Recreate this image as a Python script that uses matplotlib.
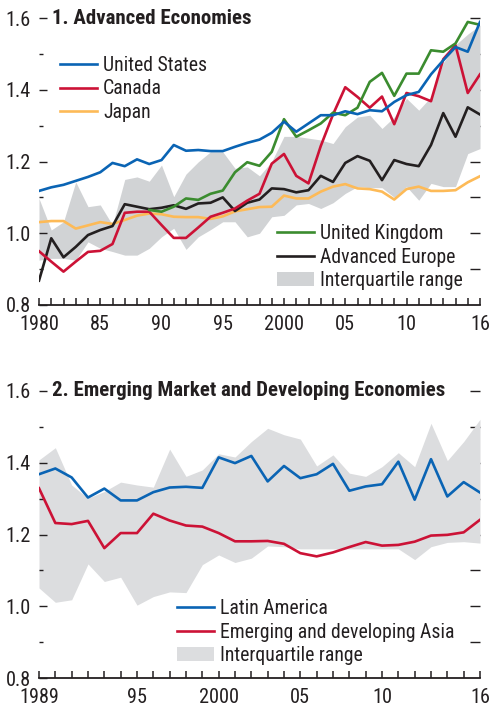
import numpy as np
import matplotlib
matplotlib.use("Agg")
import matplotlib.pyplot as plt
from matplotlib.lines import Line2D
from matplotlib.patches import Patch
from matplotlib import font_manager

# ---------------- Panel 1 data ----------------
years1 = list(range(1980, 2017))
us = [1.118, 1.128, 1.135, 1.146, 1.157, 1.170, 1.196, 1.187, 1.206, 1.193,
      1.204, 1.246, 1.230, 1.232, 1.229, 1.229, 1.241, 1.252, 1.261, 1.280,
      1.311, 1.283, 1.306, 1.329, 1.329, 1.340, 1.332, 1.343, 1.340, 1.366,
      1.385, 1.394, 1.443, 1.482, 1.519, 1.506, 1.589]
canada = [0.950, 0.921, 0.893, 0.921, 0.948, 0.951, 0.970, 1.057, 1.060, 1.060,
          1.023, 0.987, 0.987, 1.016, 1.046, 1.057, 1.069, 1.091, 1.110, 1.194,
          1.221, 1.160, 1.139, 1.243, 1.331, 1.407, 1.380, 1.350, 1.381, 1.304,
          1.391, 1.382, 1.368, 1.485, 1.524, 1.391, 1.443]
japan = [1.031, 1.034, 1.034, 1.013, 1.022, 1.031, 1.026, 1.037, 1.049, 1.055,
         1.053, 1.046, 1.045, 1.045, 1.040, 1.047, 1.061, 1.067, 1.073, 1.074,
         1.105, 1.097, 1.097, 1.116, 1.130, 1.137, 1.125, 1.123, 1.116, 1.094,
         1.123, 1.130, 1.118, 1.118, 1.120, 1.142, 1.159]
uk_years = list(range(1989, 2017))
uk = [1.065, 1.060, 1.074, 1.097, 1.093, 1.110, 1.119, 1.170, 1.198, 1.188,
      1.227, 1.318, 1.269, 1.287, 1.306, 1.336, 1.329, 1.350, 1.422, 1.447,
      1.383, 1.445, 1.445, 1.510, 1.506, 1.529, 1.589, 1.581]
europe = [0.868, 0.986, 0.933, 0.962, 0.995, 1.009, 1.020, 1.081, 1.074, 1.067,
          1.071, 1.078, 1.068, 1.083, 1.085, 1.100, 1.062, 1.085, 1.094, 1.125,
          1.123, 1.114, 1.120, 1.160, 1.143, 1.196, 1.215, 1.202, 1.148, 1.204,
          1.193, 1.187, 1.246, 1.335, 1.269, 1.351, 1.331]
iqr1_low = [0.925, 0.930, 0.930, 0.925, 0.976, 0.958, 0.949, 0.939, 0.939, 0.958,
            0.990, 1.014, 0.955, 0.990, 1.010, 1.032, 1.032, 0.990, 1.000, 1.046,
            1.050, 1.079, 1.083, 1.069, 1.085, 1.111, 1.130, 1.127, 1.127, 1.100,
            1.130, 1.092, 1.139, 1.130, 1.130, 1.222, 1.236]
iqr1_high = [1.097, 1.009, 1.032, 1.143, 1.074, 1.079, 1.023, 1.150, 1.157, 1.145,
             1.190, 1.102, 1.165, 1.199, 1.227, 1.227, 1.181, 1.185, 1.160, 1.200,
             1.270, 1.270, 1.265, 1.260, 1.250, 1.297, 1.324, 1.329, 1.292, 1.324,
             1.376, 1.343, 1.380, 1.475, 1.525, 1.555, 1.580]

# ---------------- Panel 2 data ----------------
years2 = list(range(1989, 2017))
latam = [1.368, 1.384, 1.359, 1.303, 1.328, 1.295, 1.295, 1.318, 1.331, 1.333,
         1.330, 1.415, 1.399, 1.419, 1.348, 1.391, 1.357, 1.368, 1.397, 1.322,
         1.334, 1.340, 1.403, 1.297, 1.410, 1.306, 1.346, 1.317]
asia = [1.329, 1.232, 1.229, 1.238, 1.162, 1.204, 1.204, 1.258, 1.239, 1.225,
        1.222, 1.204, 1.181, 1.181, 1.182, 1.174, 1.148, 1.139, 1.150, 1.165,
        1.179, 1.169, 1.171, 1.180, 1.197, 1.199, 1.206, 1.241]
iqr2_low = [1.051, 1.011, 1.018, 1.118, 1.069, 1.081, 1.003, 1.027, 1.040, 1.038,
            1.116, 1.143, 1.122, 1.134, 1.168, 1.166, 1.160, 1.160, 1.160, 1.160,
            1.160, 1.160, 1.160, 1.130, 1.166, 1.178, 1.180, 1.176]
iqr2_high = [1.408, 1.442, 1.338, 1.301, 1.320, 1.346, 1.338, 1.332, 1.438, 1.362,
             1.380, 1.425, 1.416, 1.459, 1.496, 1.478, 1.466, 1.391, 1.422, 1.371,
             1.362, 1.389, 1.428, 1.389, 1.510, 1.406, 1.459, 1.521]

xlabels1 = {1980: '1980', 1985: '85', 1990: '90', 1995: '95', 2000: '2000',
            2005: '05', 2010: '10', 2016: '16'}
xlabels2 = {1989: '1989', 1995: '95', 2000: '2000', 2005: '05', 2010: '10', 2016: '16'}
ylabels = ['0.8', '1.0', '1.2', '1.4', '1.6']

# ---------------- font choice: prefer a condensed sans ----------------
fl = font_manager.fontManager.ttflist


def _cond(f):
    n = f.name.lower()
    s = str(f.stretch).lower()
    if 'mono' in n or ('serif' in n and 'sans' not in n):
        return False
    return ('condensed' in s) or ('narrow' in n) or ('condensed' in n)


pref = ['liberation sans narrow', 'arial narrow', 'roboto condensed',
        'open sans condensed', 'noto sans', 'noto sans display', 'open sans',
        'dejavu sans', 'roboto', 'lato', 'inter']


def _rank(f):
    n = f.name.lower()
    p = pref.index(n) if n in pref else len(pref)
    s = str(f.stretch).lower()
    sp = 0 if s in ('condensed', 'semi-condensed') else 1
    return (p, sp)


cands = sorted([f for f in fl if _cond(f)], key=_rank)
FAM = ['Liberation Sans', 'DejaVu Sans']
STRETCH = 'normal'
if cands:
    c = cands[0]
    FAM = [c.name, 'Liberation Sans', 'DejaVu Sans']
    STRETCH = c.stretch if isinstance(c.stretch, str) else 'condensed'
plt.rcParams['font.family'] = FAM
plt.rcParams['font.stretch'] = STRETCH

W, H = 492, 708
fig = plt.figure(figsize=(4.92, 7.08), dpi=100)
renderer = fig.canvas.get_renderer()


def fit_size(s, target_px, weight='normal', base=15.0):
    t = fig.text(0, 0, s, fontsize=base, fontweight=weight)
    w = t.get_window_extent(renderer).width
    t.remove()
    size = base * target_px / w
    return min(size, 16.5)


FS = fit_size('United States', 104)
FS_TICK = fit_size('1980', 40)
FS_TITLE = fit_size('1. Advanced Economies', 200, 'bold')

BLUE = '#0A64B4'
RED = '#CC1236'
ORANGE = '#FDBA57'
GREEN = '#3B8C2F'
BLACK = '#231F20'
GRAY1 = '#D1D3D5'
GRAY2 = '#DCDDDF'
LW = 1.9
TXT = '#231F20'

ax1 = fig.add_axes([39 / W, 1 - 305 / H, 441 / W, 287 / H])
ax2 = fig.add_axes([39 / W, 1 - 678 / H, 441 / W, 287 / H])


def style(ax, years, xlabels):
    ax.set_xlim(years[0], years[-1])
    ax.set_ylim(0.8, 1.6)
    for s in ['left', 'right', 'top']:
        ax.spines[s].set_visible(False)
    ax.spines['bottom'].set_linewidth(1.3)
    ax.spines['bottom'].set_color(TXT)
    ax.set_xticks(years)
    ax.set_xticklabels([xlabels.get(y, '') for y in years])
    ax.tick_params(axis='x', direction='in', length=5, width=1.1, color=TXT,
                   labelsize=FS_TICK, pad=7, labelcolor=TXT)
    ax.set_yticks([0.8, 1.0, 1.2, 1.4, 1.6])
    ax.set_yticklabels(ylabels)
    ax.set_yticks([0.9, 1.1, 1.3, 1.5], minor=True)
    ax.tick_params(axis='y', which='major', direction='in', length=6, width=1.0,
                   color=TXT, labelsize=FS_TICK, pad=6, labelcolor=TXT)
    ax.tick_params(axis='y', which='minor', direction='in', length=3, width=1.0,
                   color=TXT)
    sec = ax.secondary_yaxis('right')
    sec.set_yticks([0.9, 1.0, 1.1, 1.2, 1.3, 1.4, 1.5, 1.6])
    sec.tick_params(direction='in', length=7, width=1.0, color=TXT, labelright=False)
    sec.spines['right'].set_visible(False)


# Panel 1
ax1.fill_between(years1, iqr1_low, iqr1_high, color=GRAY1, lw=0, zorder=1)
ax1.plot(years1, japan, color=ORANGE, lw=LW, zorder=3)
ax1.plot(years1, europe, color=BLACK, lw=LW, zorder=4)
ax1.plot(years1, canada, color=RED, lw=LW, zorder=5)
ax1.plot(uk_years, uk, color=GREEN, lw=LW, zorder=6)
ax1.plot(years1, us, color=BLUE, lw=LW, zorder=7)
style(ax1, years1, xlabels1)
ax1.text(13 / 441, 1.0, '1. Advanced Economies', transform=ax1.transAxes,
         fontsize=FS_TITLE, fontweight='bold', va='center', ha='left', color=TXT)

row_px = 24.0
em = FS * 100 / 72
lab_sp = max(0.0, (row_px - em * 0.98) / em)
leg_kw = dict(frameon=False, fontsize=FS, handlelength=37 / em,
              handletextpad=6 / em, labelspacing=lab_sp,
              borderpad=0, borderaxespad=0, loc='center left', labelcolor=TXT)
h1 = [Line2D([], [], color=BLUE, lw=LW), Line2D([], [], color=RED, lw=LW),
      Line2D([], [], color=ORANGE, lw=LW)]
l1 = ax1.legend(h1, ['United States', 'Canada', 'Japan'],
                bbox_to_anchor=((60 - 39) / 441, (305 - 89) / 287), **leg_kw)
ax1.add_artist(l1)
h2 = [Line2D([], [], color=GREEN, lw=LW), Line2D([], [], color=BLACK, lw=LW),
      Patch(facecolor=GRAY1, edgecolor='none')]
ax1.legend(h2, ['United Kingdom', 'Advanced Europe', 'Interquartile range'],
           bbox_to_anchor=((277 - 39) / 441, (305 - 257) / 287), **leg_kw)

# Panel 2
ax2.fill_between(years2, iqr2_low, iqr2_high, color=GRAY2, lw=0, zorder=1)
ax2.plot(years2, asia, color=RED, lw=LW, zorder=4)
ax2.plot(years2, latam, color=BLUE, lw=LW, zorder=5)
style(ax2, years2, xlabels2)
ax2.text(13 / 441, 1.0, '2. Emerging Market and Developing Economies',
         transform=ax2.transAxes, fontsize=FS_TITLE, fontweight='bold', va='center',
         ha='left', color=TXT)
h3 = [Line2D([], [], color=BLUE, lw=LW), Line2D([], [], color=RED, lw=LW),
      Patch(facecolor=GRAY2, edgecolor='none')]
ax2.legend(h3, ['Latin America', 'Emerging and developing Asia', 'Interquartile range'],
           bbox_to_anchor=((177 - 39) / 441, (678 - 632) / 287), **leg_kw)

fig.savefig('out.png', dpi=100)
